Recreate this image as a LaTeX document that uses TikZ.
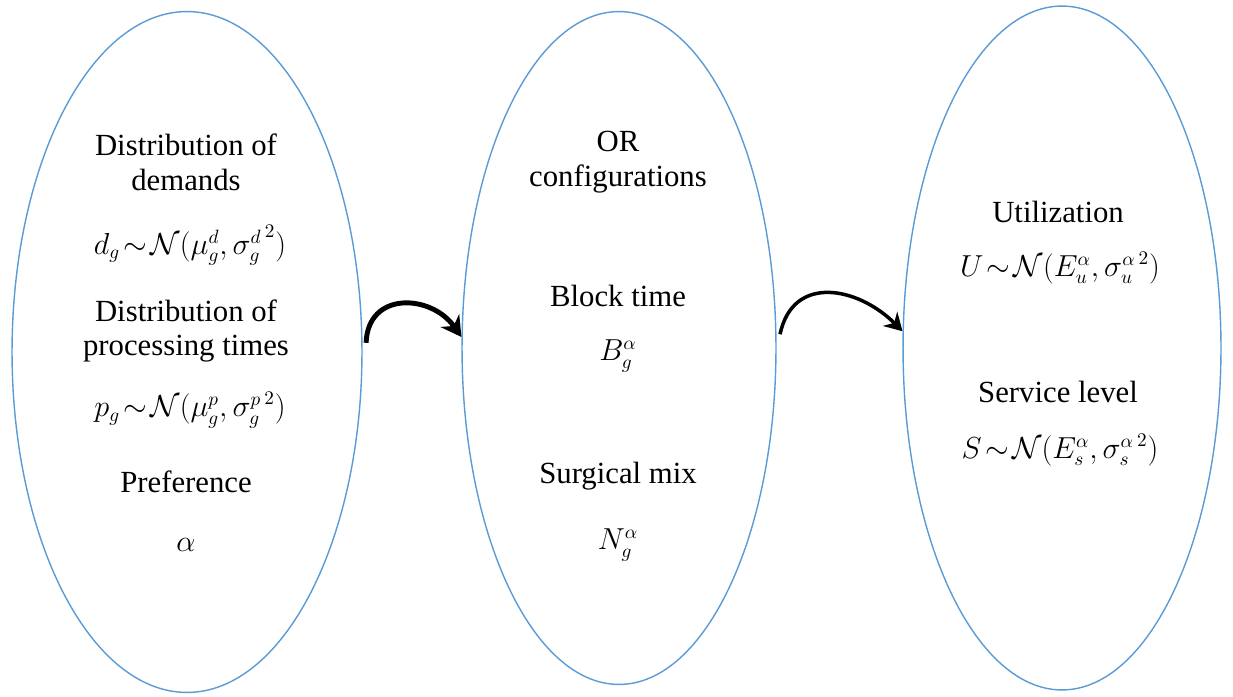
\documentclass[tikz,border=0pt]{standalone}
\usepackage{amsmath,amssymb}
\usepackage{fontspec}
\setmainfont{Liberation Serif}
\usepackage{xcolor}
\usetikzlibrary{positioning,arrows.meta,shapes.geometric}
\definecolor{ovalblue}{RGB}{91,155,213}
\tikzset{
  oval/.style={ellipse, draw=ovalblue, line width=0.8pt, inner sep=0pt},
  txt/.style={align=center, font=\fontsize{17.5}{19.8}\selectfont, inner sep=0pt},
  formula/.style={align=center, font=\fontsize{16}{19}\selectfont, inner sep=0pt},
  bigflow/.style={-{Stealth[length=4mm,width=4.5mm]}, line width=2.8pt, black},
  thinflow/.style={-{Stealth[length=3.5mm,width=4mm]}, line width=2pt, black},
}

\begin{document}
\begin{tikzpicture}[x=0.02cm, y=-0.02cm]
\useasboundingbox (0,0) rectangle (1233,696);
% ---- ovals ----
\node[oval, minimum width=7cm, minimum height=13.62cm] (lov) at (187,352) {};
\node[oval, minimum width=6.28cm, minimum height=13.46cm] (mov) at (619,348) {};
\node[oval, minimum width=6.36cm, minimum height=13.68cm] (rov) at (1062,348) {};
% ---- inputs ----
\node[txt] (l_dem) at (186,162) {Distribution of\\demands};
\node[formula] (l_dfor) at (190,245) {$d_g\!\sim\!\mathcal{N}(\mu_g^d,{\sigma_g^d}^{\,2})$};
\node[txt] (l_proc) at (186,331) {Distribution of\\processing times};
\node[formula] (l_pfor) at (190,410) {$p_g\!\sim\!\mathcal{N}(\mu_g^p,{\sigma_g^p}^{\,2})$};
\node[txt] (l_pref) at (186,482) {Preference};
\node[formula] (l_alp) at (186,545) {$\alpha$};
% ---- OR configurations ----
\node[txt] (m_or) at (618,162) {OR\\configurations};
\node[txt] (m_blk) at (618,296) {Block time};
\node[formula] (m_bfor) at (618,356) {$B_g^\alpha$};
\node[txt] (m_mix) at (618,476) {Surgical mix};
\node[formula] (m_nfor) at (618,545) {$N_g^\alpha$};
% ---- outputs ----
\node[txt] (r_util) at (1058,212) {Utilization};
\node[formula] (r_ufor) at (1060,268) {$U\!\sim\!\mathcal{N}(E_u^\alpha,{\sigma_u^\alpha}^{\,2})$};
\node[txt] (r_serv) at (1058,392) {Service level};
\node[formula] (r_sfor) at (1060,450) {$S\!\sim\!\mathcal{N}(E_s^\alpha,{\sigma_s^\alpha}^{\,2})$};
% ---- arrows ----
\draw[bigflow] ([xshift=2pt]lov.3) to[out=88,in=125,looseness=1.4] (mov.176);
\draw[thinflow] ([xshift=2pt]mov.5) to[out=78,in=135,looseness=1.3] (rov.174);
\end{tikzpicture}
\end{document}
